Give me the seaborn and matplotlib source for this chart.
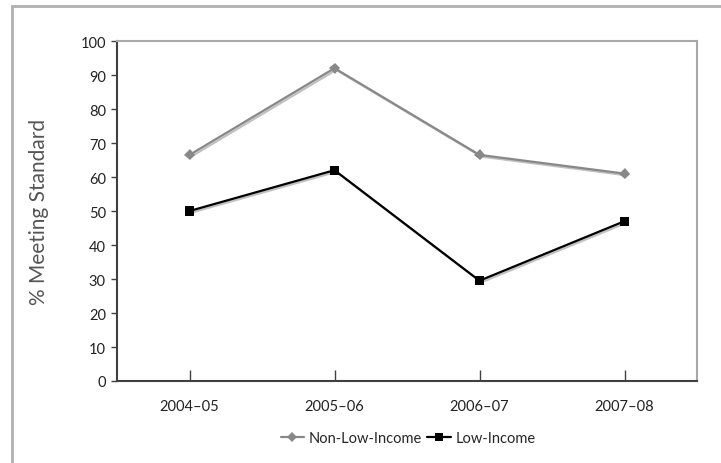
import matplotlib
matplotlib.use("Agg")
import matplotlib.pyplot as plt
import matplotlib.patheffects as pe
from matplotlib.patches import Rectangle
from matplotlib.lines import Line2D
import seaborn as sns
import pandas as pd

years = ["2004–05", "2005–06", "2006–07", "2007–08"]
non_low_income = [66.5, 92, 66.5, 61]
low_income = [50, 62, 29.5, 47]
series_names = ["Non-Low-Income", "Low-Income"]

df = pd.DataFrame({
    "Year": years * 2,
    "Value": non_low_income + low_income,
    "Group": [series_names[0]] * len(years) + [series_names[1]] * len(years),
})

sns.set_style("white")
plt.rcParams["font.family"] = ["Lato", "DejaVu Sans"]

fig = plt.figure(figsize=(7.21, 4.64), dpi=100)
ax = fig.add_axes([117/721, 1-382/464, (697-117)/721, (382-42)/464])

sns.lineplot(data=df, x="Year", y="Value", hue="Group", style="Group",
             markers={"Non-Low-Income": "D", "Low-Income": "s"},
             dashes=False, palette={"Non-Low-Income": "#888888", "Low-Income": "#000000"},
             linewidth=1.6, markersize=6, markeredgewidth=0, ax=ax, legend=False, sort=False)

for line in ax.lines:
    line.set_path_effects([pe.SimpleLineShadow(offset=(1.2, -1.2), shadow_color="#999999", alpha=0.6), pe.Normal()])
ax.lines[0].set_markersize(5.5)
ax.lines[1].set_markersize(6.5)

ax.set_xlim(-0.5, 3.5)
ax.set_ylim(0, 100)
ax.set_yticks(range(0, 101, 10))
ax.set_xlabel("")
ax.set_ylabel("")

for s in ["left", "bottom"]:
    ax.spines[s].set_color("#404040")
    ax.spines[s].set_linewidth(1.5)
for s in ["top", "right"]:
    ax.spines[s].set_color("#a8a8a8")
    ax.spines[s].set_linewidth(1.5)

ax.tick_params(axis="y", direction="out", length=4, width=1, color="#404040",
               labelsize=10.5, labelcolor="#222222", pad=4, left=True)
ax.tick_params(axis="x", direction="in", length=8, width=1, color="#404040",
               labelsize=10.5, labelcolor="#222222", pad=13, bottom=True)

fig.text(39/721, 1-212/464, "% Meeting Standard", rotation=90, ha="center", va="center",
         fontsize=15, color="#555555")

handles = [
    Line2D([], [], color="#888888", marker="D", markersize=5, markeredgewidth=0, linewidth=1.6),
    Line2D([], [], color="#000000", marker="s", markersize=6, markeredgewidth=0, linewidth=1.6),
]
fig.legend(handles, series_names, loc="center", bbox_to_anchor=(408/721, 1-439/464),
           ncol=2, frameon=False, fontsize=10.5, handlelength=1.6, handletextpad=0.3,
           columnspacing=0.4)

fig.patches.append(Rectangle((12/721, -0.1), 1.2, 1-7/464+0.1, transform=fig.transFigure,
                             fill=False, edgecolor="#b0b0b0", linewidth=2))

fig.savefig("out.png", dpi=100)
